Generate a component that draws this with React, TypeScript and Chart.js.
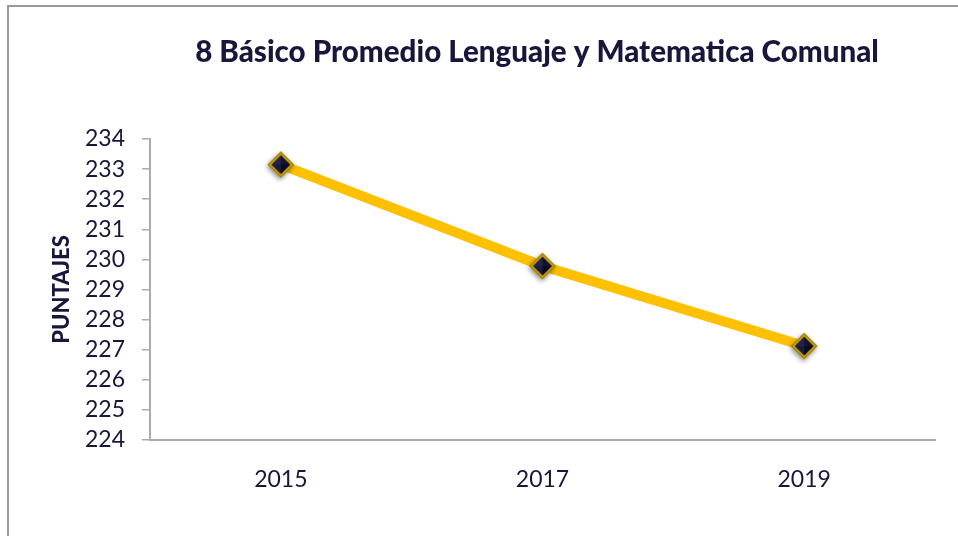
import React, { useEffect, useRef } from "react";
import { Chart, registerables } from "chart.js";

Chart.register(...registerables);

const TITLE = "8 Básico Promedio Lenguaje y Matematica Comunal";
const Y_TITLE = "PUNTAJES";
const years = ["2015", "2017", "2019"];
const puntajes = [233.15, 229.78, 227.12];
const yMin = 224;
const yMax = 234;
const yStep = 1;

const TEXT = "#18163a";
const AXIS = "#ababab";
const FONT = "Lato, 'Open Sans', sans-serif";

function makeMarker(): HTMLCanvasElement {
  const s = 40;
  const c = document.createElement("canvas");
  c.width = s;
  c.height = s;
  const ctx = c.getContext("2d")!;
  const cx = s / 2;
  const cy = s / 2;
  const diamond = (r: number) => {
    ctx.beginPath();
    ctx.moveTo(cx - r, cy);
    ctx.lineTo(cx, cy - r);
    ctx.lineTo(cx + r, cy);
    ctx.lineTo(cx, cy + r);
    ctx.closePath();
  };
  const R = 13.5;
  ctx.save();
  ctx.shadowColor = "rgba(0,0,0,0.45)";
  ctx.shadowBlur = 5;
  ctx.shadowOffsetX = -1;
  ctx.shadowOffsetY = 2;
  diamond(R);
  ctx.fillStyle = "#c9a012";
  ctx.fill();
  ctx.restore();
  diamond(R - 1);
  ctx.strokeStyle = "#8a6c00";
  ctx.lineWidth = 1;
  ctx.stroke();
  const r = R - 4;
  const facet = (ax: number, ay: number, bx: number, by: number, col: string) => {
    ctx.beginPath();
    ctx.moveTo(cx, cy);
    ctx.lineTo(ax, ay);
    ctx.lineTo(bx, by);
    ctx.closePath();
    ctx.fillStyle = col;
    ctx.fill();
  };
  facet(cx - r, cy, cx, cy - r, "#24224a");
  facet(cx, cy - r, cx + r, cy, "#14132e");
  facet(cx + r, cy, cx, cy + r, "#0b0a1e");
  facet(cx, cy + r, cx - r, cy, "#1c1a3e");
  return c;
}

const framePlugin = {
  id: "frame",
  beforeDraw(chart: any) {
    const ctx = chart.ctx;
    ctx.save();
    ctx.fillStyle = "#ffffff";
    ctx.fillRect(0, 0, chart.width, chart.height);
    ctx.strokeStyle = "#9a9a9a";
    ctx.lineWidth = 2;
    ctx.strokeRect(8, 6, chart.width + 50, chart.height + 50);
    ctx.restore();
  },
};

const titlePlugin = {
  id: "customTitle",
  afterDraw(chart: any) {
    const ctx = chart.ctx;
    ctx.save();
    let size = 26;
    ctx.font = `900 ${size}px ${FONT}`;
    const w = ctx.measureText(TITLE).width;
    size = (size * 684) / w;
    ctx.font = `900 ${size}px ${FONT}`;
    ctx.fillStyle = TEXT;
    ctx.textAlign = "center";
    ctx.textBaseline = "alphabetic";
    ctx.fillText(TITLE, 537, 62);
    ctx.restore();
  },
};

export default function App() {
  const ref = useRef<HTMLCanvasElement | null>(null);
  useEffect(() => {
    document.body.style.margin = "0";
    const canvas = ref.current!;
    const marker = makeMarker();
    const chart = new Chart(canvas, {
      type: "line",
      data: {
        labels: years,
        datasets: [
          {
            data: puntajes,
            borderColor: "#ffc000",
            borderWidth: 10,
            pointStyle: marker as any,
            pointRadius: 13,
            tension: 0,
          },
        ],
      },
      options: {
        animation: false,
        responsive: false,
        layout: { padding: { left: 40, right: 19, top: 139, bottom: 0 } },
        plugins: {
          legend: { display: false },
          title: { display: false },
          tooltip: { enabled: false },
        },
        scales: {
          x: {
            offset: true,
            grid: { display: false, drawTicks: false },
            border: { color: AXIS, width: 2 },
            ticks: { padding: 26, font: { family: FONT, size: 23 }, color: TEXT },
            afterFit: (s: any) => {
              s.height = 96;
            },
          },
          y: {
            min: yMin,
            max: yMax,
            ticks: {
              stepSize: yStep,
              autoSkip: false,
              padding: 17,
              font: { family: FONT, size: 23 },
              color: TEXT,
            },
            grid: { drawOnChartArea: false, tickLength: 8, color: AXIS, lineWidth: 1.5 },
            border: { color: AXIS, width: 2 },
            title: {
              display: true,
              text: Y_TITLE,
              font: { family: FONT, weight: "900", size: 22 },
              color: TEXT,
              padding: { top: 9, bottom: 0 },
            },
            afterFit: (s: any) => {
              s.width = 110;
            },
          },
        },
      },
      plugins: [framePlugin, titlePlugin],
    });
    return () => chart.destroy();
  }, []);
  return <canvas ref={ref} width={958} height={536} style={{ display: "block" }} />;
}
